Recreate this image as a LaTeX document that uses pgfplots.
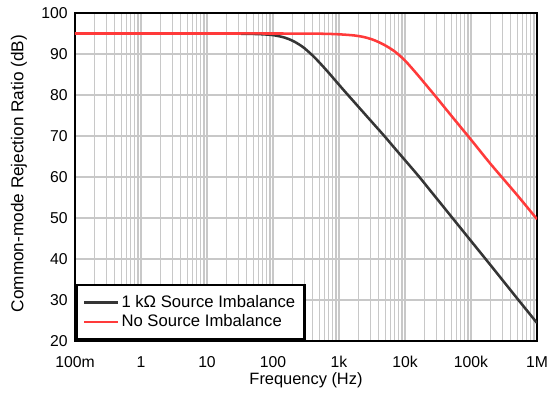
\documentclass[border=0pt]{standalone}
\usepackage{pgfplots}
\pgfplotsset{compat=1.18}
\usepackage{fontspec}
\setmainfont{Liberation Sans}
\definecolor{blk}{HTML}{353535}
\definecolor{rd}{HTML}{FF3A3A}
\definecolor{gridc}{HTML}{C8C8C8}
\begin{document}
\begin{tikzpicture}
\begin{axis}[
  scale only axis, width=346.5pt, height=246pt,
  xmode=log, xmin=0.1, xmax=1e6, ymin=20, ymax=100,
  xtick={0.1,1,10,100,1000,10000,100000,1000000},
  xticklabels={100m,1,10,100,1k,10k,100k,1M},
  ytick={20,30,40,50,60,70,80,90,100},
  grid=both,
  major grid style={draw=gridc, line width=0.9pt},
  minor grid style={draw=gridc, line width=0.9pt},
  major tick length=0pt, minor tick length=0pt,
  axis line style={line width=2pt},
  /pgf/number format/assume math mode=true,
  tick label style={font=\fontsize{11.8}{13}\selectfont},
  xticklabel style={yshift=-8pt},
  yticklabel style={xshift=-2pt},
  xlabel style={font=\fontsize{12.3}{14}\selectfont, yshift=3.5pt},
  ylabel style={font=\fontsize{12.9}{14}\selectfont, yshift=4pt, xshift=2.5pt},
  xlabel={Frequency (Hz)},
  ylabel={Common-mode Rejection Ratio (dB)},
  legend image code/.code={\draw[#1] (0pt,0pt) -- (25pt,0pt);},
  legend style={at={(0,0)}, anchor=south west, draw=black, line width=2pt,
    font=\fontsize{12.5}{14}\selectfont, inner xsep=5pt, inner ysep=6pt,
    row sep=0pt},
  legend cell align=left,
]
\addplot[blk, line width=1.9pt, smooth] coordinates {
(0.1,95) (1,95) (10,95) (30,94.95) (60,94.85) (100,94.6) (150,94.0) (200,93.2)
(250,92.3) (300,91.4) (400,89.6) (500,88.0) (700,85.4) (1000,82.5) (1300,80.4)
(2000,77.0) (3000,73.8) (4860,70) (7000,67.0) (10000,64.1) (16500,60)
(25000,56.4) (50000,50.4) (100000,44.4) (200000,38.4)
(500000,30.4) (1000000,24.4)
};
\addlegendentry{1 kΩ Source Imbalance}
\addplot[rd, line width=1.9pt, smooth] coordinates {
(0.1,95) (1,95) (10,95) (100,95) (500,94.95) (1000,94.8) (1750,94.5) (2500,94.05)
(3500,93.3) (5000,92.1) (7000,90.6) (10000,88.4) (15000,85.2) (20000,82.8)
(30000,79.4) (50000,75.0) (100000,69.1) (200000,63.1)
(500000,55.6) (1000000,49.7)
};
\addlegendentry{No Source Imbalance}
\end{axis}
\pgfresetboundingbox
\path ([shift={(-56.25pt,-39.75pt)}]current axis.south west) rectangle ([shift={(8.25pt,9.75pt)}]current axis.north east);
\end{tikzpicture}
\end{document}
